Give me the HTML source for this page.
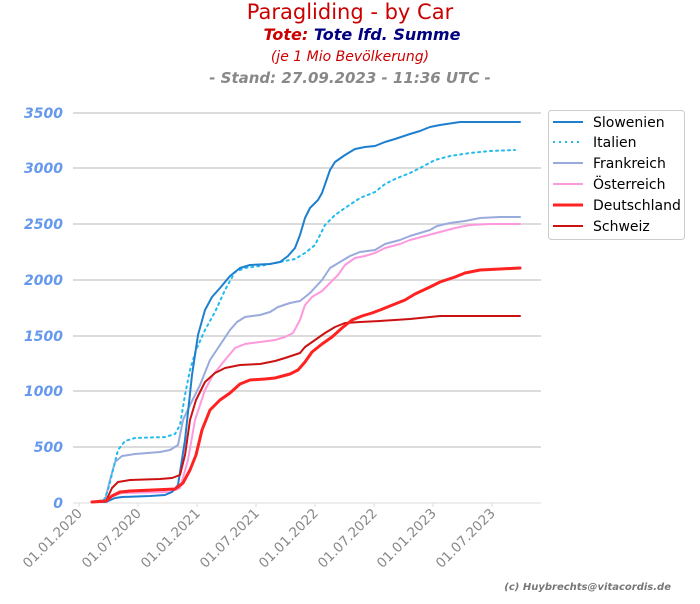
<!DOCTYPE html>
<html><head><meta charset="utf-8"><style>
body{margin:0;background:#fff;width:700px;height:600px;overflow:hidden;font-family:"DejaVu Sans","Liberation Sans",sans-serif}
</style></head><body>
<svg width="700" height="600" xmlns="http://www.w3.org/2000/svg" font-family="DejaVu Sans, Liberation Sans, sans-serif">
<text x="350" y="19" text-anchor="middle" font-size="21" fill="#cc0000">Paragliding - by Car</text>
<text x="362" y="40" text-anchor="middle" font-size="16" font-weight="bold" font-style="italic"><tspan fill="#cc0000">Tote:</tspan><tspan fill="#000080"> Tote lfd. Summe</tspan></text>
<text x="350" y="61" text-anchor="middle" font-size="14" font-style="italic" fill="#cc0000">(je 1 Mio Bevölkerung)</text>
<text x="350" y="83" text-anchor="middle" font-size="15" font-weight="bold" font-style="italic" fill="#888">- Stand: 27.09.2023 - 11:36 UTC -</text>
<g stroke="#d0d0d0" stroke-width="1.5">
<line x1="73" x2="541" y1="447" y2="447"/><line x1="73" x2="541" y1="391" y2="391"/><line x1="73" x2="541" y1="336" y2="336"/><line x1="73" x2="541" y1="280" y2="280"/><line x1="73" x2="541" y1="224" y2="224"/><line x1="73" x2="541" y1="168" y2="168"/><line x1="73" x2="541" y1="113" y2="113"/>
</g>
<line x1="73" x2="541" y1="503" y2="503" stroke="#ddd" stroke-width="1"/>
<g stroke="#ddd"><line x1="79" x2="79" y1="503" y2="507"/><line x1="138" x2="138" y1="503" y2="507"/><line x1="197" x2="197" y1="503" y2="507"/><line x1="256" x2="256" y1="503" y2="507"/><line x1="315" x2="315" y1="503" y2="507"/><line x1="374" x2="374" y1="503" y2="507"/><line x1="433" x2="433" y1="503" y2="507"/><line x1="492" x2="492" y1="503" y2="507"/></g>
<g font-size="14" font-weight="bold" font-style="italic" fill="#6699ee" text-anchor="end">
<text x="63" y="508">0</text><text x="63" y="452">500</text><text x="63" y="396">1000</text><text x="63" y="341">1500</text><text x="63" y="285">2000</text><text x="63" y="229">2500</text><text x="63" y="173">3000</text><text x="63" y="118">3500</text>
</g>
<g font-size="13.5" fill="#888" text-anchor="end">
<text transform="translate(83,514) rotate(-45)">01.01.2020</text>
<text transform="translate(142,514) rotate(-45)">01.07.2020</text>
<text transform="translate(201,514) rotate(-45)">01.01.2021</text>
<text transform="translate(260,514) rotate(-45)">01.07.2021</text>
<text transform="translate(319,514) rotate(-45)">01.01.2022</text>
<text transform="translate(378,514) rotate(-45)">01.07.2022</text>
<text transform="translate(437,514) rotate(-45)">01.01.2023</text>
<text transform="translate(496,514) rotate(-45)">01.07.2023</text>
</g>
<text x="671" y="590" text-anchor="end" font-size="10" font-weight="bold" font-style="italic" fill="#777">(c) Huybrechts@vitacordis.de</text>
<g fill="none" stroke-linejoin="round" stroke-linecap="round">
<polyline stroke="#99aadd" stroke-width="2" points="92,502 105,500 110,480 115,462 122,456 135,454 160,452 170,450 178,445 183,420 190,405 200,385 210,360 220,345 230,330 237,322 245,317 260,315 270,312 278,307 290,303 300,301 310,293 322,280 330,268 340,262 350,256 360,252 375,250 385,244 400,240 410,236 420,233 430,230 437,226 450,223 465,221 480,218 500,217 520,217"/>
<polyline stroke="#ff99dd" stroke-width="2" points="92,502 106,500 112,496 122,493 170,492 180,488 188,460 195,420 205,390 213,375 225,360 235,348 245,344 260,342 275,340 285,337 293,333 300,320 305,305 312,297 322,291 330,283 338,275 345,265 355,258 365,256 375,253 385,248 400,244 410,240 425,236 440,232 455,228 470,225 490,224 520,224"/>
<polyline stroke="#22bbee" stroke-width="2" stroke-dasharray="2,4" points="92,502 104,500 108,490 113,470 118,450 125,441 135,438 165,437 175,434 180,425 185,395 190,370 196,350 205,330 215,312 225,290 235,272 245,268 260,266 280,262 295,259 305,253 315,245 325,225 335,215 345,208 360,198 375,192 385,184 395,179 410,173 420,168 435,160 450,156 470,153 490,151 515,150"/>
<polyline stroke="#1f7fcf" stroke-width="2" points="92,502 106,502 115,498 122,497 150,496 165,495 172,492 178,485 185,440 192,375 198,335 205,310 212,297 220,288 230,276 240,268 250,265 270,264 280,262 288,256 295,248 300,235 305,218 310,208 318,200 322,193 330,170 335,162 345,155 355,149 365,147 375,146 385,142 395,139 410,134 420,131 430,127 440,125 460,122 520,122"/>
<polyline stroke="#cc1111" stroke-width="2" points="92,502 106,501 112,488 118,482 130,480 160,479 172,478 180,475 185,455 190,420 196,400 205,382 215,373 225,368 240,365 260,364 275,361 285,358 300,353 305,347 315,340 325,333 335,327 345,323 360,322 380,321 395,320 410,319 430,317 440,316 520,316"/>
<polyline stroke="#ff2222" stroke-width="3" points="92,502 106,501 112,496 120,492 130,491 175,489 183,483 190,470 196,455 202,430 210,410 220,400 230,393 240,384 250,380 265,379 275,378 290,374 298,370 305,362 312,352 322,344 332,337 342,328 352,320 362,316 372,313 380,310 390,306 405,300 415,294 430,287 440,282 455,277 465,273 480,270 500,269 520,268"/>
</g>
<rect x="548.5" y="110.5" width="136" height="129" rx="3" fill="#fff" stroke="#ccc"/>
<g stroke-width="2">
<line x1="553" x2="583" y1="122" y2="122" stroke="#1f7fcf"/>
<line x1="553" x2="583" y1="142" y2="142" stroke="#22bbee" stroke-dasharray="2,4"/>
<line x1="553" x2="583" y1="163" y2="163" stroke="#99aadd"/>
<line x1="553" x2="583" y1="184" y2="184" stroke="#ff99dd"/>
<line x1="553" x2="583" y1="205" y2="205" stroke="#ff2222" stroke-width="3"/>
<line x1="553" x2="583" y1="226" y2="226" stroke="#cc1111"/>
</g>
<g font-size="14" fill="#000">
<text x="593" y="127">Slowenien</text><text x="593" y="147">Italien</text><text x="593" y="168">Frankreich</text><text x="593" y="189">Österreich</text><text x="593" y="210">Deutschland</text><text x="593" y="231">Schweiz</text>
</g>
</svg>
</body></html>
